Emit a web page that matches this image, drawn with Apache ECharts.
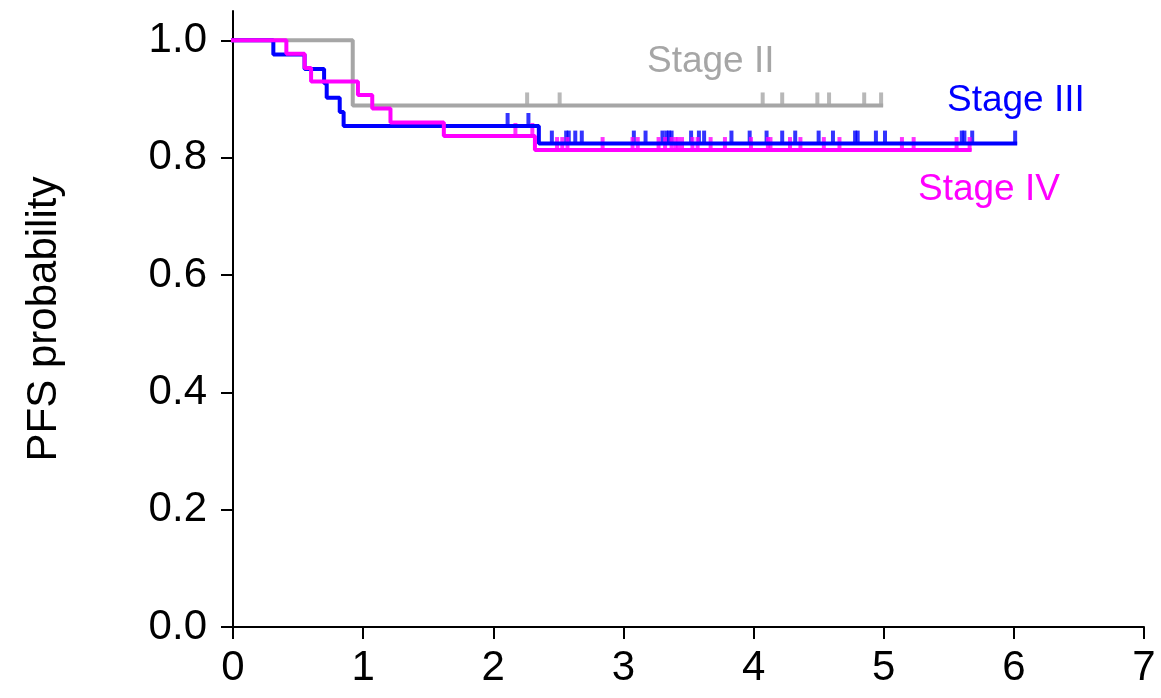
<!DOCTYPE html>
<html>
<head>
<meta charset="utf-8">
<script src="https://cdn.jsdelivr.net/npm/echarts@6/dist/echarts.min.js"></script>
<style>
  html, body { margin: 0; padding: 0; background: #fff; }
  #chart { width: 1161px; height: 698px; }
</style>
</head>
<body>
<div id="chart"></div>
<script>
// Kaplan-Meier step points (time in years, survival probability)
var stage2Times = [0, 0.92, 4.98];
var stage2Surv = [1, 0.889, 0.889];
var stage3Times = [0, 0.31, 0.55, 0.70, 0.72, 0.82, 0.85, 2.35, 6.01];
var stage3Surv = [1, 0.976, 0.951, 0.927, 0.902, 0.878, 0.854, 0.824, 0.824];
var stage4Times = [0, 0.41, 0.55, 0.60, 0.96, 1.07, 1.21, 1.62, 2.32, 5.66];
var stage4Surv = [1, 0.977, 0.953, 0.930, 0.907, 0.884, 0.860, 0.837, 0.813, 0.813];

// censoring times
var stage2Censor = [2.26, 2.51, 4.07, 4.22, 4.49, 4.58, 4.85, 4.98];
var stage3Censor = [2.11, 2.27, 2.45, 2.56, 2.58, 2.63, 2.68, 3.08, 3.17, 3.30, 3.33, 3.35, 3.37,
    3.52, 3.58, 3.62, 3.83, 3.97, 4.10, 4.22, 4.32, 4.50, 4.61, 4.78, 4.80, 4.94, 5.01,
    5.60, 5.62, 5.68, 6.01];
var stage4Censor = [2.17, 2.30, 2.49, 2.53, 2.57, 2.84, 3.07, 3.11, 3.27, 3.32, 3.37, 3.40, 3.42,
    3.45, 3.53, 3.57, 3.67, 3.78, 3.98, 4.11, 4.13, 4.28, 4.36, 4.54, 4.66, 5.14, 5.23,
    5.56, 5.66];

var xTicks = [0, 1, 2, 3, 4, 5, 6, 7];
var yTicks = [0, 0.2, 0.4, 0.6, 0.8, 1.0];

var FONT = "'Liberation Sans', Arial, sans-serif";
var GRAY = "#a6a6a6", BLUE = "#0000ff", PINK = "#ff00ff";

function pairs(times, surv) {
    return times.map(function (t, i) { return [t, surv[i]]; });
}

// survival value of the step curve at time t
function survAt(times, surv, t) {
    var s = surv[0];
    for (var i = 0; i < times.length; i++) {
        if (times[i] <= t) s = surv[i];
    }
    return s;
}

function censorPts(censor, times, surv) {
    return censor.map(function (t) { return [t, survAt(times, surv, t)]; });
}

function kmLine(name, color, times, surv) {
    return {
        name: name,
        type: "line",
        step: "end",
        data: pairs(times, surv),
        showSymbol: false,
        lineStyle: { color: color, width: 4, cap: "square" },
        animation: false
    };
}

function kmTicks(name, color, censor, times, surv) {
    return {
        name: name,
        type: "scatter",
        data: censorPts(censor, times, surv),
        symbol: "rect",
        symbolSize: [4, 14],
        symbolOffset: [0, -6],
        itemStyle: { color: color },
        animation: false
    };
}

var chart = echarts.init(document.getElementById("chart"), null, { renderer: "canvas" });
chart.setOption({
    backgroundColor: "#fff",
    animation: false,
    grid: { left: 233, right: 17, top: 11, bottom: 71, containLabel: false },
    xAxis: {
        type: "value",
        min: 0,
        max: 7,
        interval: 1,
        splitLine: { show: false },
        axisLine: { onZero: false, lineStyle: { color: "#000", width: 2 } },
        axisTick: { length: 12, lineStyle: { color: "#000", width: 2 }, customValues: xTicks },
        axisLabel: { color: "#000", fontSize: 42, fontFamily: FONT, margin: 20, customValues: xTicks }
    },
    yAxis: {
        type: "value",
        min: 0,
        max: 1.05,
        name: "PFS probability",
        nameLocation: "middle",
        nameGap: 168,
        nameTextStyle: { color: "#000", fontSize: 42, fontFamily: FONT },
        splitLine: { show: false },
        axisLine: { show: true, onZero: false, lineStyle: { color: "#000", width: 2 } },
        axisTick: { show: true, length: 12, lineStyle: { color: "#000", width: 2 }, customValues: yTicks },
        axisLabel: {
            color: "#000", fontSize: 42, fontFamily: FONT, margin: 26, customValues: yTicks,
            formatter: function (v) { return v.toFixed(1); }
        }
    },
    graphic: [
        { type: "text", left: 647, top: 43, style: { text: "Stage II", fill: GRAY, font: "37px " + FONT } },
        { type: "text", left: 947, top: 82, style: { text: "Stage III", fill: BLUE, font: "37px " + FONT } },
        { type: "text", left: 918, top: 171, style: { text: "Stage IV", fill: PINK, font: "37px " + FONT } }
    ],
    series: [
        kmLine("Stage II", GRAY, stage2Times, stage2Surv),
        kmTicks("Stage II censored", GRAY, stage2Censor, stage2Times, stage2Surv),
        kmLine("Stage III", BLUE, stage3Times, stage3Surv),
        kmTicks("Stage III censored", BLUE, stage3Censor, stage3Times, stage3Surv),
        kmLine("Stage IV", PINK, stage4Times, stage4Surv),
        kmTicks("Stage IV censored", PINK, stage4Censor, stage4Times, stage4Surv)
    ]
});
</script>
</body>
</html>
